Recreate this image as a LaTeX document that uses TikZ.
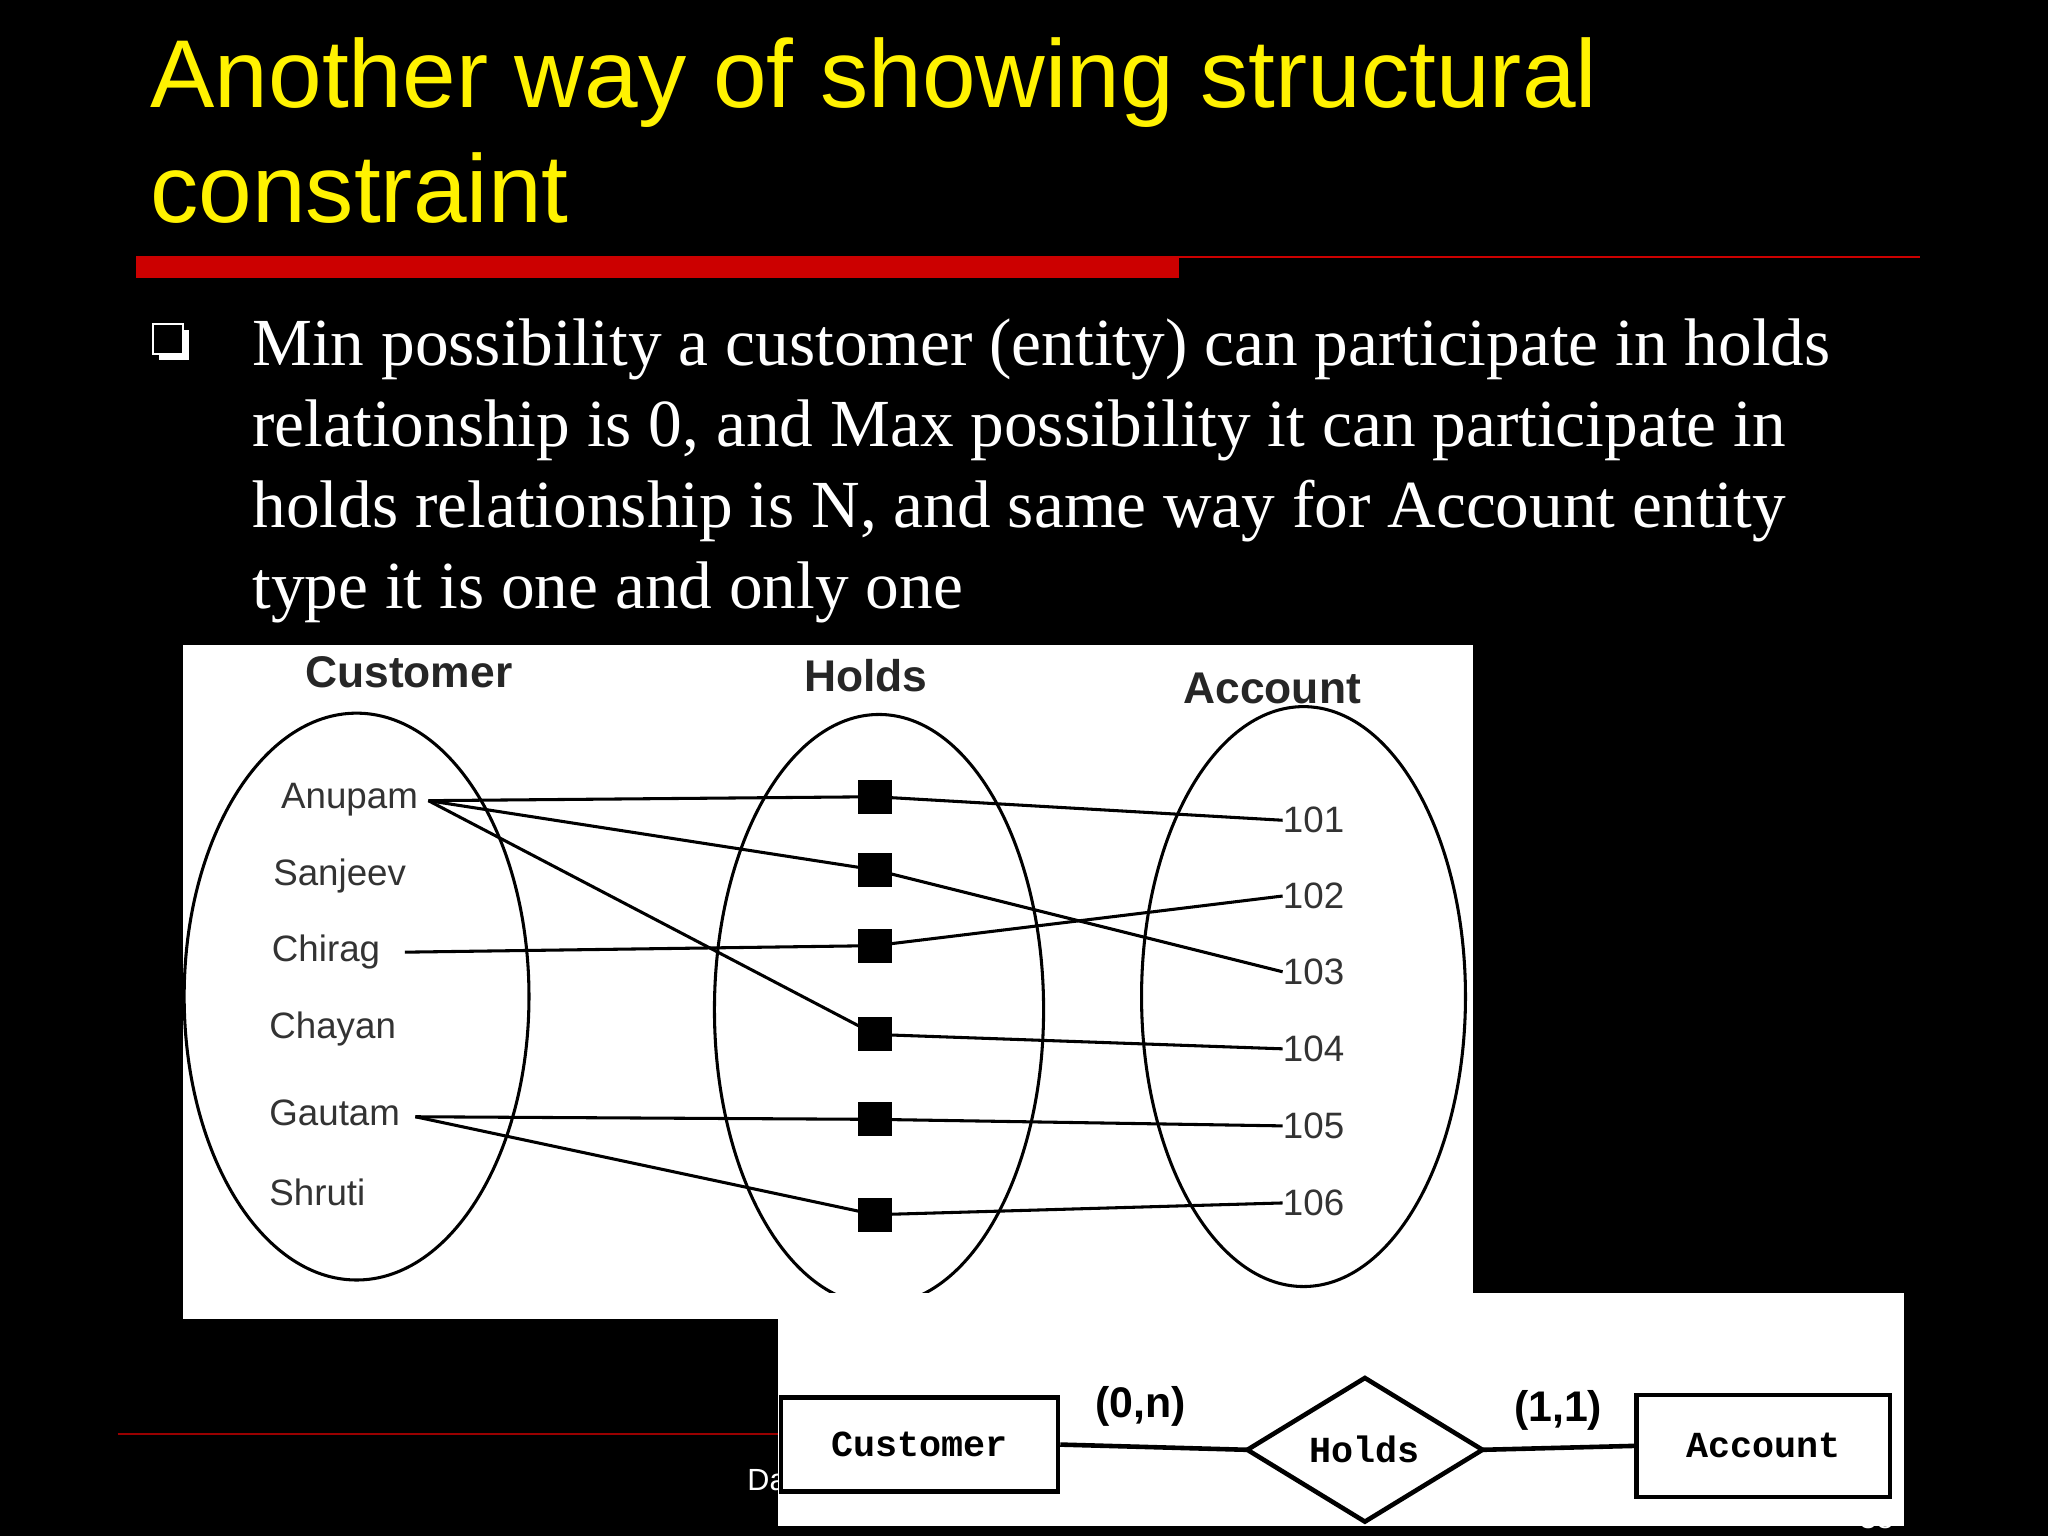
\documentclass[tikz,border=0pt]{standalone}
\usepackage{fontspec}
\setmainfont{Liberation Serif}
\newfontfamily\arial{Liberation Sans}
\newfontfamily\cour{Liberation Mono}
\begin{document}
\begin{tikzpicture}[x=0.03cm,y=-0.03cm,
  lbl/.style={font=\arial\fontsize{24}{28}\selectfont,text=black!80,anchor=west,inner sep=0},
  hdr/.style={font=\arial\bfseries\fontsize{29}{34}\selectfont,text=black!85,inner sep=0},
  sq/.style={fill=black,minimum size=0.78cm,inner sep=0},
  ln/.style={line width=2pt},
  erbox/.style={draw,line width=3pt,inner sep=0},
  body/.style={font=\fontsize{44}{53}\selectfont,text=white,anchor=base west,align=left,inner sep=0}]
\fill[black] (0,0) rectangle (1568,1176);
\useasboundingbox (0,0) rectangle (1568,1176);
% title
\node[anchor=base west,inner sep=0,font=\arial\fontsize{63}{75}\selectfont,text=yellow,align=left] (title) at (115,82) {Another way of showing structural};
\node[anchor=base west,inner sep=0,font=\arial\fontsize{63}{75}\selectfont,text=yellow] (title2) at (115,170) {constraint};
\fill[red!80!black] (104,196) rectangle (903,213);
\draw[red!80!black,line width=1.5pt] (903,197) -- (1470,197);
% bullet
\draw[white,line width=1.5pt] (117,248) rectangle (140,271);
\fill[white] (140,253) rectangle (145,276); \fill[white] (122,271) rectangle (145,276);
\node[body] (t1) at (193,280) {Min possibility a customer (entity) can participate in holds};
\node[body] (t2) at (193,342) {relationship is 0, and Max possibility it can participate in};
\node[body] (t3) at (193,404) {holds relationship is N, and same way for Account entity};
\node[body] (t4) at (193,466) {type it is one and only one};
% footer
\draw[red!60!black,line width=1pt] (90,1098) -- (700,1098);
\node[anchor=west,text=white,font=\arial\fontsize{20}{24}\selectfont,inner sep=0] (foot) at (572,1135) {Database Management System};
\node[anchor=east,text=white,font=\arial\fontsize{20}{24}\selectfont,inner sep=0] (pg) at (1450,1135) {3};
\node[anchor=east,text=white,font=\arial\fontsize{20}{24}\selectfont,inner sep=0] (pg2) at (1450,1162) {38};
% diagram 1
\fill[white] (140,494) rectangle (1128,1010);
\draw[line width=2pt] (273,763) ellipse [x radius=132,y radius=217];
\draw[line width=2pt] (673,773) ellipse [x radius=126,y radius=226];
\draw[line width=2pt] (998,763) ellipse [x radius=124,y radius=222];
\node[hdr] (hc) at (313,515) {Customer};
\node[hdr] (hh) at (663,517) {Holds};
\node[hdr] (ha) at (974,527) {Account};
\node[lbl] (anu) at (215,612) {Anupam};
\node[lbl] (san) at (209,671) {Sanjeev};
\node[lbl] (chi) at (208,729) {Chirag};
\node[lbl] (cha) at (206,788) {Chayan};
\node[lbl] (gau) at (206,852) {Gautam};
\node[lbl] (shr) at (206,913) {Shruti};
\foreach \i/\y in {1/610,2/666,3/724,4/792,5/857,6/930}{\node[sq] (s\i) at (670,\y) {};}
\foreach \n/\y in {101/628,102/686,103/744,104/803,105/862,106/921}{\node[lbl] (a\n) at (982,\y) {\n};}
\coordinate (anuE) at (328,613);
\coordinate (chiE) at (310,729);
\coordinate (gauE) at (318,855);
\draw[ln] (anuE) -- (s1.center); \draw[ln] (anuE) -- (s2.center); \draw[ln] (anuE) -- (s4.center);
\draw[ln] (chiE) -- (s3.center);
\draw[ln] (gauE) -- (s5.center); \draw[ln] (gauE) -- (s6.center);
\draw[ln] (s1.center) -- (a101.west); \draw[ln] (s2.center) -- (a103.west);
\draw[ln] (s3.center) -- (a102.west); \draw[ln] (s4.center) -- (a104.west);
\draw[ln] (s5.center) -- (a105.west); \draw[ln] (s6.center) -- (a106.west);
% diagram 2
\fill[white] (596,990) rectangle (1458,1168);
\node[erbox,minimum width=6.36cm,minimum height=2.16cm,font=\cour\bfseries\fontsize{24}{28}\selectfont] (cust) at (704,1106) {Customer};
\node[erbox,minimum width=5.82cm,minimum height=2.34cm,font=\cour\bfseries\fontsize{24}{28}\selectfont] (acc) at (1350,1107) {Account};
\draw[line width=3pt] (955,1110) -- (1045,1055) -- (1135,1110) -- (1045,1165) -- cycle;
\node[font=\cour\bfseries\fontsize{24}{28}\selectfont,inner sep=0] (hol) at (1045,1110) {Holds};
\coordinate (dl) at (955,1110); \coordinate (dr) at (1135,1110);
\draw[line width=3pt] (cust.east) -- (dl);
\draw[line width=3pt] (dr) -- (acc.west);
\node[font=\arial\bfseries\fontsize{28}{32}\selectfont,inner sep=0] (l1) at (873,1077) {(0,n)};
\node[font=\arial\bfseries\fontsize{28}{32}\selectfont,inner sep=0] (l2) at (1193,1080) {(1,1)};
\end{tikzpicture}
\end{document}
